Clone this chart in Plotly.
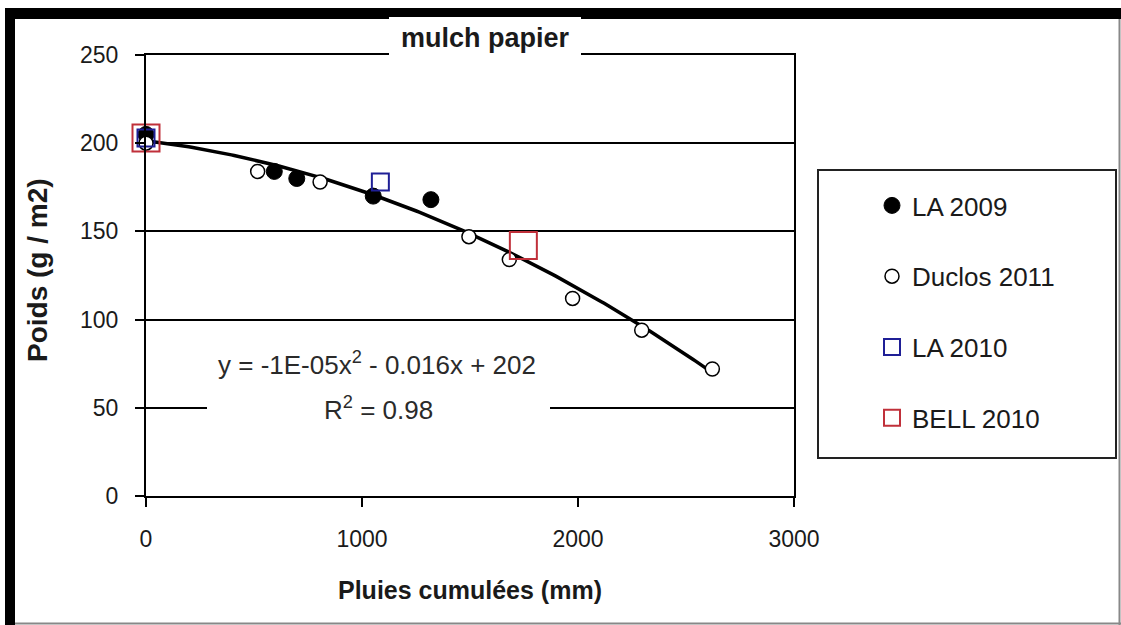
import numpy as np
import plotly.graph_objects as go

# ---- data ----
la2009_x = [0, 594, 698, 1052, 1319]
la2009_y = [205, 184, 180, 170, 168]
duclos_x = [0, 517, 806, 1495, 1682, 1975, 2295, 2622]
duclos_y = [200, 184, 178, 147, 134, 112, 94, 72]
la2010_x = [0, 1085]
la2010_y = [203, 178]
bell_x = [0, 1747]
bell_y = [203, 142]

title_text = "mulch papier"
x_title = "Pluies cumulées (mm)"
y_title = "Poids (g / m2)"
eq_line1 = "y = -1E-05x<sup>2</sup> - 0.016x + 202"
eq_line2 = "R<sup>2</sup> = 0.98"

# polynomial trendline (order 2) fitted on all points, like the spreadsheet trendline
all_x = np.array(la2009_x + duclos_x + la2010_x + bell_x, dtype=float)
all_y = np.array(la2009_y + duclos_y + la2010_y + bell_y, dtype=float)
coef = np.polyfit(all_x, all_y, 2)
trend_x = np.linspace(all_x.min(), all_x.max(), 200)
trend_y = np.polyval(coef, trend_x)

W, H = 1121, 625
L, R, T, B = 146, 794, 55, 496  # plot area in pixels


def px(x):
    return (x - L) / (R - L)


def py(y):
    return (B - y) / (B - T)


FONT = "Liberation Sans, Arial, sans-serif"
TXT = "#1a1a1a"

fig = go.Figure()
fig.add_trace(go.Scatter(x=trend_x, y=trend_y, mode="lines",
                         line=dict(color="black", width=3.5),
                         showlegend=False, hoverinfo="skip", cliponaxis=False))
fig.add_trace(go.Scatter(x=la2009_x, y=la2009_y, mode="markers", name="LA 2009",
                         legendgroup="a",
                         marker=dict(symbol="circle", size=16, color="black",
                                     line=dict(color="black", width=1)),
                         cliponaxis=False))
fig.add_trace(go.Scatter(x=duclos_x, y=duclos_y, mode="markers", name="Duclos 2011",
                         legendgroup="b",
                         marker=dict(symbol="circle", size=14, color="white",
                                     line=dict(color="black", width=1.5)),
                         cliponaxis=False))
fig.add_trace(go.Scatter(x=la2010_x, y=la2010_y, mode="markers", name="LA 2010",
                         legendgroup="c",
                         marker=dict(symbol="square-open", size=17, color="#1f1f96",
                                     line=dict(color="#1f1f96", width=2)),
                         cliponaxis=False))
fig.add_trace(go.Scatter(x=bell_x, y=bell_y, mode="markers", name="BELL 2010",
                         legendgroup="d",
                         marker=dict(symbol="square-open", size=27, color="#c0303a",
                                     line=dict(color="#c0303a", width=2)),
                         cliponaxis=False))

shapes = [
    # outer frame
    dict(type="rect", xref="paper", yref="paper", x0=px(5), x1=px(1121), y0=py(8), y1=py(19),
         fillcolor="black", line=dict(width=0)),
    dict(type="rect", xref="paper", yref="paper", x0=px(5), x1=px(15), y0=py(8), y1=py(625),
         fillcolor="black", line=dict(width=0)),
    dict(type="line", xref="paper", yref="paper", x0=px(1119.5), x1=px(1119.5), y0=py(19), y1=py(625),
         line=dict(color="#888888", width=2)),
    dict(type="line", xref="paper", yref="paper", x0=px(15), x1=px(1121), y0=py(623.5), y1=py(623.5),
         line=dict(color="#888888", width=2)),
    # legend box
    dict(type="rect", xref="paper", yref="paper", x0=px(818), x1=px(1116), y0=py(458), y1=py(170),
         fillcolor="rgba(0,0,0,0)", line=dict(color="#222222", width=2)),
    # white boxes behind title and equation
    dict(type="rect", xref="paper", yref="paper", x0=px(389), x1=px(581), y0=py(66), y1=py(17),
         fillcolor="white", line=dict(width=0)),
    dict(type="rect", xref="paper", yref="paper", x0=px(207), x1=px(550), y0=py(432), y1=py(340),
         fillcolor="white", line=dict(width=0)),
]

annotations = [
    dict(text="<b>" + title_text + "</b>", xref="paper", yref="paper", x=px(485), y=py(38),
         showarrow=False, font=dict(family=FONT, size=27, color=TXT), xanchor="center", yanchor="middle"),
    dict(text=eq_line1, xref="paper", yref="paper", x=px(377), y=py(363),
         showarrow=False, font=dict(family=FONT, size=26, color="#2a2a2a"), xanchor="center", yanchor="middle"),
    dict(text=eq_line2, xref="paper", yref="paper", x=px(378), y=py(408),
         showarrow=False, font=dict(family=FONT, size=26, color="#2a2a2a"), xanchor="center", yanchor="middle"),
    dict(text="<b>" + x_title + "</b>", xref="paper", yref="paper", x=px(470), y=py(590),
         showarrow=False, font=dict(family=FONT, size=25, color=TXT), xanchor="center", yanchor="middle"),
    dict(text="<b>" + y_title + "</b>", xref="paper", yref="paper", x=px(37), y=py(270),
         showarrow=False, textangle=-90, font=dict(family=FONT, size=28, color=TXT),
         xanchor="center", yanchor="middle"),
]

fig.update_layout(
    width=W, height=H,
    margin=dict(l=L, r=W - R, t=T, b=H - B, pad=0),
    paper_bgcolor="white", plot_bgcolor="white",
    font=dict(family=FONT, size=23, color=TXT),
    shapes=shapes, annotations=annotations,
    showlegend=True,
    legend=dict(x=px(872), y=py(182), xanchor="left", yanchor="top",
                bgcolor="rgba(0,0,0,0)", borderwidth=0,
                font=dict(family=FONT, size=26, color=TXT),
                tracegroupgap=34, itemsizing="trace"),
    xaxis=dict(range=[0, 3000], tickvals=[0, 1000, 2000, 3000], showgrid=False,
               zeroline=False, showline=True, linecolor="black", linewidth=2, mirror=True,
               ticks="outside", ticklen=9, tickwidth=2, tickcolor="black",
               ticklabelstandoff=12, tickfont=dict(family=FONT, size=23, color=TXT)),
    yaxis=dict(range=[0, 250], tickvals=[0, 50, 100, 150, 200, 250], showgrid=True,
               gridcolor="black", gridwidth=1.5,
               zeroline=False, showline=True, linecolor="black", linewidth=2, mirror=True,
               ticks="outside", ticklen=9, tickwidth=2, tickcolor="black",
               ticklabelstandoff=12, tickfont=dict(family=FONT, size=23, color=TXT)),
)

fig.write_html("out.html", config={"displayModeBar": False},
               post_script="document.body.style.margin='0';document.body.style.overflow='hidden';")
